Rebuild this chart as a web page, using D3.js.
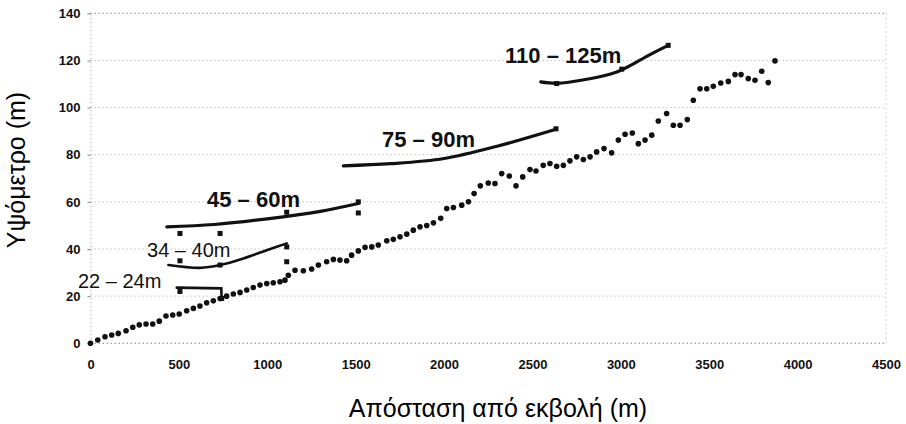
<!DOCTYPE html>
<html>
<head>
<meta charset="utf-8">
<script src="https://cdn.jsdelivr.net/npm/d3@7"></script>
<style>
  body { margin: 0; background: #fff; }
  svg { display: block; }
  .tick text { font-family: "Liberation Sans", Arial, sans-serif; font-weight: bold; font-size: 13px; fill: #111; }
</style>
</head>
<body>
<svg id="chart" width="906" height="424"></svg>
<script>
// main profile: distance from mouth (m) and elevation (m)
var distance = [0, 41, 82, 120, 157, 201, 239, 276, 314, 352, 389, 427, 465, 502, 544, 582, 619, 657, 695, 733,
  770, 808, 846, 884, 921, 959, 997, 1034, 1072, 1100, 1119, 1157, 1204, 1251, 1289, 1336, 1374, 1411, 1449, 1477,
  1515, 1553, 1591, 1628, 1676, 1713, 1751, 1789, 1826, 1864, 1902, 1940, 1981, 2015, 2053, 2100, 2138, 2170, 2205,
  2250, 2288, 2326, 2369, 2407, 2445, 2486, 2520, 2561, 2599, 2637, 2675, 2712, 2750, 2788, 2826, 2863, 2905, 2948,
  2986, 3024, 3065, 3099, 3137, 3175, 3212, 3259, 3297, 3335, 3376, 3410, 3448, 3486, 3523, 3565, 3608, 3646, 3680,
  3721, 3759, 3797, 3834, 3872];
var elevation = [0, 1.4, 2.8, 3.5, 4.2, 5.3, 6.8, 7.8, 8.2, 8.2, 9.4, 11.6, 12, 12.4, 13.8, 14.8, 15.8, 17.2, 18, 19,
  20, 20.9, 21.6, 22.6, 23.7, 24.7, 25.4, 25.7, 26.1, 26.8, 28.9, 31, 30.8, 31.5, 33.2, 34.6, 35.6, 35.3, 35, 37.4,
  39.2, 40.7, 40.9, 41.7, 43.5, 44.1, 45.2, 46.3, 48, 49.4, 50, 51.1, 53, 57.2, 57.6, 58.6, 60, 63.5, 66.8,
  68, 67.8, 72, 71, 66.8, 70.6, 73.7, 73.1, 75.5, 76.3, 75.1, 75.5, 77.4, 79.1, 78, 79.1, 81.2, 82.6, 80.8,
  86.2, 88.7, 89.2, 84.7, 86.2, 88.3, 94.3, 97.5, 92.5, 92.5, 94.9, 103.1, 108, 108, 109, 110.4, 111.1, 114, 114,
  112.3, 111.6, 115.4, 110.6, 119.8];

// terrace levels: name, fitted curve and measured points
var terraceNames = ["22 – 24m", "34 – 40m", "45 – 60m", "75 – 90m", "110 – 125m"];
var curve22 = [[488, 23.6], [740, 23.3], [742, 18.5]];
var curve34 = [[441, 33.2], [619, 32], [733, 33.2], [865, 36], [997, 39.5], [1110, 42.4]];
var curve45 = [[432, 49.4], [700, 50.4], [1000, 52.8], [1300, 56], [1515, 59.3]];
var curve75 = [[1430, 75.3], [1700, 76.2], [2000, 78.4], [2300, 83.6], [2633, 90.8]];
var curve110 = [[2547, 110.9], [2637, 110.3], [2800, 111.9], [2977, 115.1], [3165, 122.5], [3268, 126.4]];
var points22 = [[506, 22], [742, 19]];
var points34 = [[506, 35], [733, 33.2], [1110, 40.9], [1110, 34.6]];
var points45 = [[506, 46.6], [733, 46.6], [1110, 55.6], [1515, 55.3], [1515, 60]];
var points75 = [[2633, 91]];
var points110 = [[2637, 110.2], [3005, 116.3], [3268, 126.4]];
// where each label starts (distance, elevation at baseline)
var labelAt = [[-71, 23.5], [320, 36.6], [659, 57.8], [1649, 83.3], [2345, 118.9]];

var xTicks = d3.range(0, 4501, 500);
var yTicks = d3.range(0, 141, 20);

var svg = d3.select("#chart");
var x = d3.scaleLinear().domain([0, 4500]).range([90.5, 886]);
var y = d3.scaleLinear().domain([0, 140]).range([343.3, 13.3]);

// grid
svg.append("g").selectAll("line")
  .data(yTicks)
  .enter().append("line")
  .attr("x1", x(0)).attr("x2", x(4500))
  .attr("y1", function(d) { return y(d); }).attr("y2", function(d) { return y(d); })
  .attr("stroke", function(d) { return (d == 0 || d == 140) ? "#888" : "#c4c4c4"; })
  .attr("stroke-width", 1)
  .attr("stroke-dasharray", "1.5,2.5");

svg.append("line")
  .attr("x1", x(4500)).attr("x2", x(4500)).attr("y1", y(0)).attr("y2", y(140))
  .attr("stroke", "#c4c4c4").attr("stroke-dasharray", "1.5,3");

// axes
var yAxis = svg.append("g").attr("transform", "translate(" + x(0) + ",0)")
  .call(d3.axisLeft(y).tickValues(yTicks).tickSize(3).tickPadding(7));
yAxis.select(".domain").attr("stroke", "#aaa").attr("stroke-dasharray", "1.5,2.5");
yAxis.selectAll(".tick line").attr("stroke", "#888");

var xAxis = svg.append("g").attr("transform", "translate(0," + y(0) + ")")
  .call(d3.axisBottom(x).tickValues(xTicks).tickFormat(d3.format("d")).tickSize(0).tickPadding(16));
xAxis.select(".domain").remove();

// axis titles
svg.append("text")
  .attr("x", 498).attr("y", 417)
  .attr("text-anchor", "middle")
  .style("font-family", "Liberation Sans, Arial, sans-serif")
  .style("font-size", "25px")
  .text("Απόσταση από εκβολή (m)");

svg.append("text")
  .attr("transform", "translate(25,170) rotate(-90)")
  .attr("text-anchor", "middle")
  .style("font-family", "Liberation Sans, Arial, sans-serif")
  .style("font-size", "25px")
  .text("Υψόμετρο (m)");

// main profile dots
svg.append("g").selectAll("circle")
  .data(distance)
  .enter().append("circle")
  .attr("cx", function(d) { return x(d); })
  .attr("cy", function(d, i) { return y(elevation[i]); })
  .attr("r", 2.8)
  .attr("fill", "#111");

// terrace curves
var line = d3.line()
  .x(function(d) { return x(d[0]); })
  .y(function(d) { return y(d[1]); })
  .curve(d3.curveCatmullRom);

var curves = [curve22, curve34, curve45, curve75, curve110];
var points = [points22, points34, points45, points75, points110];

curves.forEach(function(c, i) {
  svg.append("path")
    .attr("d", i == 0 ? line.curve(d3.curveLinear)(c) : line.curve(d3.curveCatmullRom)(c))
    .attr("fill", "none")
    .attr("stroke", "#111")
    .attr("stroke-width", i < 2 ? 2.6 : 3.2)
    .attr("stroke-linecap", "round");

  svg.append("g").selectAll("rect")
    .data(points[i])
    .enter().append("rect")
    .attr("x", function(d) { return x(d[0]) - 2.5; })
    .attr("y", function(d) { return y(d[1]) - 2.5; })
    .attr("width", 5).attr("height", 5)
    .attr("fill", "#111");
});

// terrace labels
svg.append("g").selectAll("text")
  .data(terraceNames)
  .enter().append("text")
  .attr("x", function(d, i) { return x(labelAt[i][0]); })
  .attr("y", function(d, i) { return y(labelAt[i][1]); })
  .style("font-family", "Liberation Sans, Arial, sans-serif")
  .style("font-size", function(d, i) { return i < 2 ? "20px" : "22px"; })
  .style("font-weight", function(d, i) { return i < 2 ? "normal" : "bold"; })
  .style("fill", "#111")
  .text(function(d) { return d; });
</script>
</body>
</html>
